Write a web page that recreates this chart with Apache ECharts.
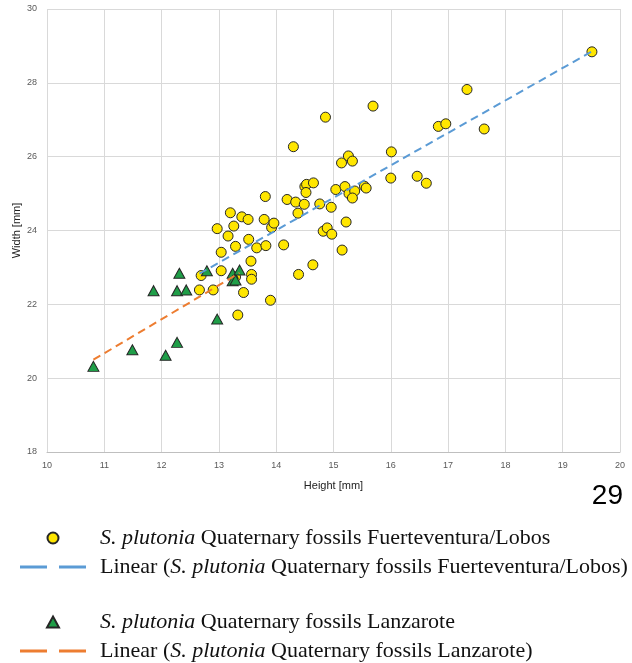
<!DOCTYPE html>
<html>
<head>
<meta charset="utf-8">
<script src="https://cdn.jsdelivr.net/npm/echarts@6/dist/echarts.min.js"></script>
<style>
  html, body { margin: 0; padding: 0; background: #fff; }
  #chart { width: 632px; height: 663px; }
</style>
</head>
<body>
<div id="chart"></div>
<script>
// Fuerteventura/Lobos fossils: height, width [mm]
var heightFL = [12.97, 13.16, 13.20, 13.26, 13.40, 13.51, 13.52, 13.79, 13.81, 13.92,
  13.96, 14.19, 14.30, 14.34, 14.38, 14.49, 14.50, 14.53, 14.52, 14.65,
  14.76, 14.86, 14.96, 15.04, 15.20, 15.27, 15.37, 15.33, 15.54, 15.57,
  15.14, 15.26, 15.33, 15.22, 14.82, 14.89, 14.97, 15.15, 14.64, 14.39,
  15.69, 16.01, 16.00, 16.46, 16.62, 16.83, 16.96, 17.33, 17.63, 19.51,
  13.04, 13.29, 13.66, 13.82, 14.13, 13.56, 13.57, 13.57, 13.04, 12.69,
  12.66, 12.90, 13.43, 13.33, 13.90, 13.29];
var widthFL = [24.05, 23.85, 24.48, 24.12, 24.37, 24.30, 23.76, 24.30, 24.92, 24.08,
  24.20, 24.84, 26.27, 24.77, 24.47, 24.71, 25.19, 25.25, 25.03, 25.29,
  24.72, 27.07, 24.63, 25.11, 25.19, 25.00, 25.07, 24.88, 25.20, 25.15,
  25.83, 26.02, 25.88, 24.23, 23.98, 24.07, 23.90, 23.47, 23.07, 22.81,
  27.37, 26.13, 25.42, 25.47, 25.28, 26.82, 26.89, 27.82, 26.75, 28.84,
  23.41, 23.57, 23.53, 23.59, 23.61, 23.17, 22.81, 22.68, 22.91, 22.78,
  22.39, 22.39, 22.32, 21.71, 22.11, 22.74];

// Lanzarote fossils
var heightLz = [10.81, 11.49, 12.07, 12.27, 12.97, 11.86, 12.27, 12.43, 12.31, 12.79,
  13.24, 13.36, 13.24, 13.29];
var widthLz = [20.32, 20.77, 20.62, 20.97, 21.60, 22.37, 22.37, 22.39, 22.84, 22.91,
  22.84, 22.93, 22.64, 22.66];

// linear trend lines, ends
var trendFL = [[12.66, 22.83], [19.51, 28.85]];
var trendLz = [[10.81, 20.50], [13.36, 22.85]];

var nameFL = 'S. plutonia Quaternary fossils Fuerteventura/Lobos';
var nameLz = 'S. plutonia Quaternary fossils Lanzarote';

function pairs(xs, ys) {
  return xs.map(function (x, i) { return [x, ys[i]]; });
}

var serif = 'Liberation Serif';
var legendText = {
  fontFamily: serif,
  fontSize: 22,
  lineHeight: 24,
  color: '#111',
  padding: [0, 0, 0, 9],
  rich: { i: { fontFamily: serif, fontSize: 22, lineHeight: 24, fontStyle: 'italic', color: '#111' } }
};
function fmt(name) { return name.replace('S. plutonia', '{i|S. plutonia}'); }
var dashIcon = 'path://M0,0H27V3H0Z M39,0H66V3H39Z';
var triIcon = 'path://M6,0L12,11L0,11Z';

function legendBlock(name, markIcon, pos) {
  var lg = {
    orient: 'vertical', left: 20, padding: 0, itemWidth: 66, itemHeight: 11, itemGap: 5,
    symbolKeepAspect: true, formatter: fmt, textStyle: legendText,
    data: [
      markIcon ? { name: name, icon: markIcon } : { name: name },
      { name: 'Linear (' + name + ')', icon: dashIcon }
    ]
  };
  for (var k in pos) lg[k] = pos[k];
  return lg;
}

var chart = echarts.init(document.getElementById('chart'));
chart.setOption({
  animation: false,
  title: {
    text: '29', right: 9, top: 482, padding: 0,
    textStyle: { fontFamily: 'Liberation Sans', fontSize: 28, fontWeight: 'normal', color: '#000' }
  },
  grid: { left: 47, right: 12, top: 9, bottom: 211, outerBoundsMode: 'none' },
  legend: [
    legendBlock(nameFL, null, { top: 526 }),
    legendBlock(nameLz, triIcon, { bottom: 0 })
  ],
  xAxis: {
    type: 'value', min: 10, max: 20, interval: 1,
    name: 'Height [mm]', nameLocation: 'middle', nameGap: 28,
    nameTextStyle: { fontFamily: 'Liberation Sans', fontSize: 11, color: '#222' },
    axisLine: { lineStyle: { color: '#bfbfbf' } },
    axisTick: { show: false },
    axisLabel: { fontFamily: 'Liberation Sans', fontSize: 9, color: '#595959', margin: 9 },
    splitLine: { lineStyle: { color: '#d9d9d9' } }
  },
  yAxis: {
    type: 'value', min: 18, max: 30, interval: 2,
    name: 'Width [mm]', nameLocation: 'middle', nameGap: 25, nameMoveOverlap: false,
    nameTextStyle: { fontFamily: 'Liberation Sans', fontSize: 11, color: '#222' },
    axisLine: { show: false },
    axisTick: { show: false },
    axisLabel: { fontFamily: 'Liberation Sans', fontSize: 9, color: '#595959', margin: 10 },
    splitLine: { lineStyle: { color: '#d9d9d9' } }
  },
  series: [
    {
      name: nameFL, type: 'scatter', symbol: 'circle', symbolSize: 10,
      itemStyle: { color: '#ffe600', borderColor: '#262626', borderWidth: 1, opacity: 1 },
      data: pairs(heightFL, widthFL), z: 2
    },
    {
      name: nameLz, type: 'scatter', symbol: 'triangle', symbolSize: [11, 10],
      itemStyle: { color: '#1f9e48', borderColor: '#262626', borderWidth: 1, opacity: 1 },
      data: pairs(heightLz, widthLz), z: 3
    },
    {
      name: 'Linear (' + nameFL + ')', type: 'line', symbol: 'none',
      lineStyle: { color: '#5b9bd5', width: 2, type: [8, 5] },
      itemStyle: { color: '#5b9bd5' },
      data: trendFL, z: 4
    },
    {
      name: 'Linear (' + nameLz + ')', type: 'line', symbol: 'none',
      lineStyle: { color: '#ed7d31', width: 2, type: [8, 5] },
      itemStyle: { color: '#ed7d31' },
      data: trendLz, z: 4
    }
  ]
});
</script>
</body>
</html>
